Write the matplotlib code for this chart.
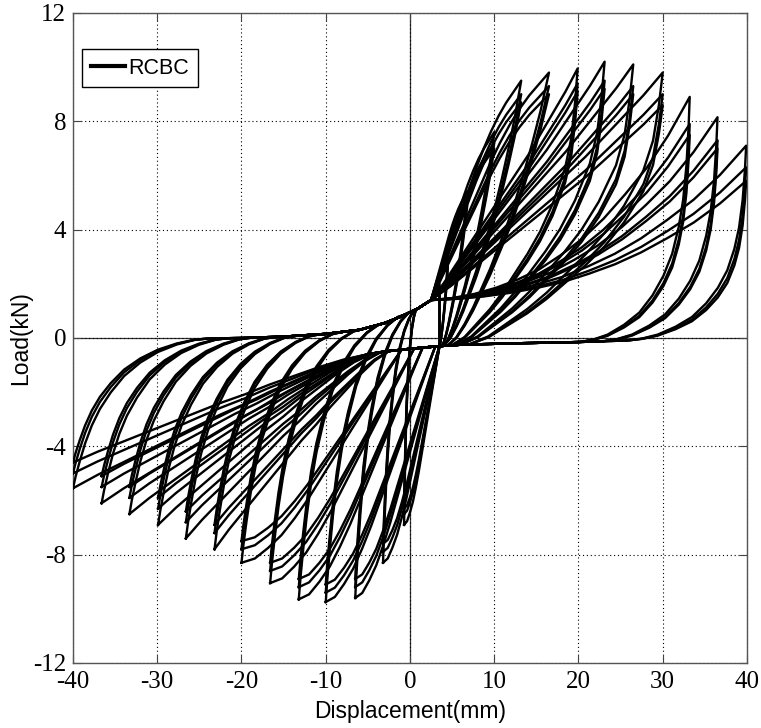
import numpy as np
import matplotlib
matplotlib.use("Agg")
import matplotlib.pyplot as plt

plt.rcParams["axes.unicode_minus"] = False

# cyclic test of the RCBC specimen: one entry per displacement level,
# three cycles at each level
pos_disp = [3.5, 4.5, 6.8, 10.0, 13.2, 16.5, 19.9, 23.1, 26.5, 30.0, 33.2, 36.5, 39.9]
pos_load_1 = [2.0, 3.0, 5.4, 7.6, 9.5, 9.8, 9.95, 10.2, 10.1, 9.8, 8.9, 8.15, 7.1]
pos_load_2 = [1.9, 2.8, 5.1, 7.2, 9.0, 9.3, 9.4, 9.5, 9.3, 9.0, 7.9, 7.3, 6.3]
pos_load_3 = [1.8, 2.7, 4.9, 7.0, 8.7, 9.0, 9.1, 9.2, 9.0, 8.6, 7.5, 7.0, 5.8]

neg_disp = [-0.7, -3.2, -6.5, -10.0, -13.2, -16.6, -20.0, -23.2, -26.6, -29.9, -33.3, -36.6, -40.0]
neg_load_1 = [-6.9, -8.3, -9.6, -9.75, -9.65, -9.05, -8.3, -7.8, -7.4, -6.9, -6.5, -6.1, -5.55]
neg_load_2 = [-6.5, -7.9, -9.2, -9.4, -9.2, -8.6, -7.8, -7.2, -6.8, -6.3, -5.9, -5.5, -5.0]
neg_load_3 = [-6.3, -7.6, -8.9, -9.1, -8.9, -8.3, -7.5, -6.9, -6.4, -5.9, -5.5, -5.1, -4.6]

# displacement (mm) where each unloading branch reaches the slip plateau
neg_arc_end = [0.8, 0.8, 0.5, -0.5, -2.7, -5.6, -8.0, -10.7, -13.6, -15.9, -18.8, -21.6, -24.0]
pos_arc_end = [3.5, 3.5, 3.8, 4.0, 4.0, 4.5, 5.0, 5.5, 6.0, 7.0, 20.2, 23.0, 25.9]
# displacement (mm) where the drop towards the negative peak leaves the plateau
fall_from = [3.5, 3.5, 3.5, 3.0, 1.5, 0.5, -1.0, -2.5, -3.5, -4.5, -5.0, -5.0, -5.0]

# branch shape used at each level
pos_arc_kind = [1, 1, 1, 1, 1, 1, 2, 2, 2, 2, 0, 0, 0]
rise_kind = [0, 0, 0, 0, 0, 0, 1, 1, 1, 1, 2, 2, 2]
fall_kind = [0, 0, 0, 0, 0, 0, 0, 1, 1, 1, 1, 1, 1]

# slip paths close to zero load (pinching)
up_slip_d = [-40, -30, -20, -15, -10, -6, -3, -1, 1, 2.5]
up_slip_p = [-0.15, -0.05, 0.0, 0.05, 0.15, 0.3, 0.55, 0.8, 1.1, 1.4]
dn_slip_d = [-5, -3, 0, 3.5, 6, 12, 20, 30, 40]
dn_slip_p = [-0.6, -0.5, -0.4, -0.3, -0.25, -0.2, -0.15, -0.05, 0.1]

# normalised branch shapes: share of horizontal travel / share of load change
grid = [i / 12 for i in range(13)]
neg_arc_u = [0, 0.02, 0.05, 0.09, 0.14, 0.2, 0.28, 0.38, 0.5, 0.63, 0.77, 0.9, 1]
neg_arc_v = [0, 0.08, 0.18, 0.3, 0.42, 0.53, 0.64, 0.75, 0.84, 0.91, 0.96, 0.99, 1]
pos_arc_shapes = [
    ([0, 0.01, 0.03, 0.06, 0.1, 0.16, 0.24, 0.34, 0.46, 0.6, 0.75, 0.88, 1],
     [0, 0.12, 0.28, 0.42, 0.53, 0.64, 0.73, 0.81, 0.88, 0.93, 0.97, 0.99, 1]),
    (grid, [0, 0.14, 0.26, 0.37, 0.47, 0.56, 0.64, 0.72, 0.79, 0.86, 0.92, 0.97, 1]),
    ([0, 0.02, 0.05, 0.1, 0.2, 0.3, 0.4, 0.5, 0.6, 0.7, 0.8, 0.9, 1],
     [0, 0.12, 0.25, 0.36, 0.49, 0.59, 0.67, 0.74, 0.81, 0.87, 0.92, 0.97, 1]),
]
rise_shapes = [
    [0, 0.1, 0.2, 0.3, 0.4, 0.5, 0.6, 0.69, 0.77, 0.84, 0.9, 0.95, 1],
    [0, 0.07, 0.15, 0.23, 0.31, 0.39, 0.47, 0.55, 0.63, 0.72, 0.81, 0.9, 1],
    [0, 0.01, 0.03, 0.06, 0.1, 0.15, 0.22, 0.3, 0.4, 0.52, 0.65, 0.81, 1],
]
fall_shapes = [
    [0, 0.1, 0.2, 0.3, 0.4, 0.5, 0.6, 0.7, 0.79, 0.87, 0.93, 0.98, 1],
    [0, 0.05, 0.12, 0.2, 0.28, 0.37, 0.45, 0.54, 0.63, 0.72, 0.81, 0.9, 1],
]


def branch(x0, y0, x1, y1, us, vs):
    us = np.asarray(us, dtype=float)
    vs = np.asarray(vs, dtype=float)
    return list(x0 + (x1 - x0) * us), list(y0 + (y1 - y0) * vs)


def cycle(k, pd, pl, nd, nl):
    xs, ys = [], []
    # reloading from the negative peak up to the slip plateau
    xm = neg_arc_end[k]
    bx, by = branch(nd, nl, xm, np.interp(xm, up_slip_d, up_slip_p), neg_arc_u, neg_arc_v)
    xs += bx; ys += by
    for d, p in zip(up_slip_d, up_slip_p):
        if xm < d < 2.5:
            xs.append(d); ys.append(p)
    # pinched rise to the positive peak
    bx, by = branch(up_slip_d[-1], up_slip_p[-1], pd, pl, grid, rise_shapes[rise_kind[k]])
    xs += bx; ys += by
    # unloading from the positive peak
    xm = pos_arc_end[k]
    au, av = pos_arc_shapes[pos_arc_kind[k]]
    bx, by = branch(pd, pl, xm, np.interp(xm, dn_slip_d, dn_slip_p), au, av)
    xs += bx; ys += by
    xf = fall_from[k]
    for d, p in zip(dn_slip_d[::-1], dn_slip_p[::-1]):
        if xf < d < xm:
            xs.append(d); ys.append(p)
    # drop through the pinch to the negative peak
    bx, by = branch(xf, np.interp(xf, dn_slip_d, dn_slip_p), nd, nl, grid,
                    fall_shapes[fall_kind[k]])
    xs += bx; ys += by
    return xs, ys


fig = plt.figure(figsize=(7.61, 7.28), dpi=100)
ax = fig.add_axes([0.0959, 0.0893, 0.8857, 0.8929])

ax.axhline(0, color="#333333", lw=0.9, zorder=1)
ax.axvline(0, color="#333333", lw=0.9, zorder=1)

first = True
for k in range(len(pos_disp)):
    for pl, nl in [(pos_load_1[k], neg_load_1[k]), (pos_load_2[k], neg_load_2[k]),
                   (pos_load_3[k], neg_load_3[k])]:
        xs, ys = cycle(k, pos_disp[k], pl, neg_disp[k], nl)
        ax.plot(xs, ys, color="black", lw=1.7, solid_joinstyle="round",
                label="RCBC" if first else None, zorder=3)
        first = False

ax.set_xlim(-40, 40)
ax.set_ylim(-12, 12)
ax.set_xticks(range(-40, 41, 10))
ax.set_yticks(range(-12, 13, 4))
ax.grid(True, color="black", linestyle=(0, (1, 2.5)), lw=0.8)
ax.tick_params(direction="in", top=True, right=True, length=6, width=0.8,
               color="#444444", labelsize=18, labelfontfamily="Liberation Serif")
ax.tick_params(axis="x", pad=6)
ax.tick_params(axis="y", pad=5)
for s in ax.spines.values():
    s.set_color("#555555")
    s.set_linewidth(1.0)

ax.set_xlabel("Displacement(mm)", family="Liberation Sans", fontsize=16.5, labelpad=5)
ax.set_ylabel("Load(kN)", family="Liberation Sans", fontsize=16.5)
ax.yaxis.set_label_coords(-0.061, 0.5)

leg = ax.legend(loc="upper left", bbox_to_anchor=(0.0134, 0.9446), borderaxespad=0,
                handlelength=1.6, handletextpad=0.15, borderpad=0.4, fancybox=False,
                framealpha=1, prop={"family": "Liberation Sans", "size": 15.5})
leg.get_frame().set_edgecolor("black")
leg.get_frame().set_linewidth(1.0)
for line in leg.get_lines():
    line.set_linewidth(3)

fig.savefig("out.png", dpi=100)
